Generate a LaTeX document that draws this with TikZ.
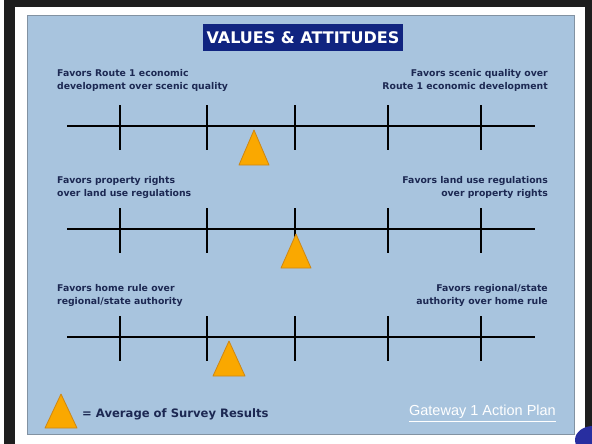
\documentclass[tikz,border=0pt]{standalone}
\usepackage{fontspec}
\setmainfont{DejaVu Sans}
\newfontfamily\arialfont{Liberation Sans}
\definecolor{panelblue}{RGB}{168,196,222}
\definecolor{paneledge}{RGB}{130,146,162}
\definecolor{titlenavy}{RGB}{16,36,128}
\definecolor{labelnavy}{RGB}{28,40,82}
\definecolor{triorange}{RGB}{250,168,0}
\definecolor{triedge}{RGB}{205,135,20}
\definecolor{framedark}{RGB}{30,30,30}
\definecolor{logoblue}{RGB}{40,46,160}
\tikzset{
  lbl/.style={font=\fontsize{9.3}{13.2}\selectfont\bfseries, text=labelnavy, inner sep=0pt},
  lbll/.style={lbl, anchor=north west, align=left},
  lblr/.style={lbl, anchor=north east, align=right},
  axisline/.style={line width=2pt, black},
  tickline/.style={line width=2.4pt, black},
  tri/.style={fill=triorange, draw=triedge, line width=0.8pt, line join=round},
}
\begin{document}
\begin{tikzpicture}[x=1pt,y=-1pt]
\useasboundingbox (0,0) rectangle (592,444);
\clip (0,0) rectangle (592,444);
% slide frame
\fill[white] (0,0) rectangle (592,444);
\fill[framedark] (4,0) rectangle (592,7);
\fill[framedark] (4,0) rectangle (15,444);
\fill[framedark] (585,0) rectangle (592,444);
\fill[white] (15,7) rectangle (585,444);
% panel
\fill[panelblue, draw=paneledge, line width=1pt] (27,16) rectangle (574,434);
% title
\node[fill=titlenavy, text=white, font=\fontsize{16}{18}\selectfont\bfseries,
      minimum width=200pt, minimum height=27pt, inner sep=0pt] (title) at (303,38) {VALUES \& ATTITUDES};

% row labels
\node[lbll] (l1) at (57,69) {Favors Route 1 economic\\development over scenic quality};
\node[lblr] (r1) at (548,69) {Favors scenic quality over\\Route 1 economic development};
\node[lbll] (l2) at (57,176) {Favors property rights\\over land use regulations};
\node[lblr] (r2) at (548,176) {Favors land use regulations\\over property rights};
\node[lbll] (l3) at (57,284) {Favors home rule over\\regional/state authority};
\node[lblr] (r3) at (548,284) {Favors regional/state\\authority over home rule};

% axes
\foreach \r/\y in {1/126, 2/229, 3/337} {
  \coordinate (ax\r l) at (67,\y);
  \coordinate (ax\r r) at (535,\y);
  \draw[axisline] (ax\r l) -- (ax\r r);
  \foreach \k/\x in {1/120, 2/207, 3/295, 4/388, 5/481} {
    \coordinate (t\r\k a) at (\x,\y-21);
    \coordinate (t\r\k b) at (\x,\y+24);
    \draw[tickline] (t\r\k a) -- (t\r\k b);
  }
}

% survey triangles
\coordinate (p1) at (254,130);
\draw[tri] (p1) -- ++(15,35) -- ++(-30,0) -- cycle;
\coordinate (p2) at (296,234);
\draw[tri] (p2) -- ++(15,34) -- ++(-30,0) -- cycle;
\coordinate (p3) at (229,341);
\draw[tri] (p3) -- ++(16,35) -- ++(-32,0) -- cycle;

% legend
\coordinate (lg) at (61,394);
\draw[tri] (lg) -- ++(16,34) -- ++(-32,0) -- cycle;
\node[anchor=west, font=\fontsize{11.6}{14}\selectfont\bfseries, text=labelnavy, inner sep=0pt] (legend) at (82,414) {= Average of Survey Results};

% link text
\node[anchor=east, font=\arialfont\fontsize{14.5}{16}\selectfont, text=white, inner sep=0pt] (link) at (556,412) {Gateway 1 Action Plan};
\draw[white, line width=1pt] ([yshift=-2.5pt]link.south west) -- ([yshift=-2.5pt]link.south east);

% logo fragment
\fill[logoblue] (593,440) ellipse (18pt and 14pt);
\end{tikzpicture}
\end{document}
